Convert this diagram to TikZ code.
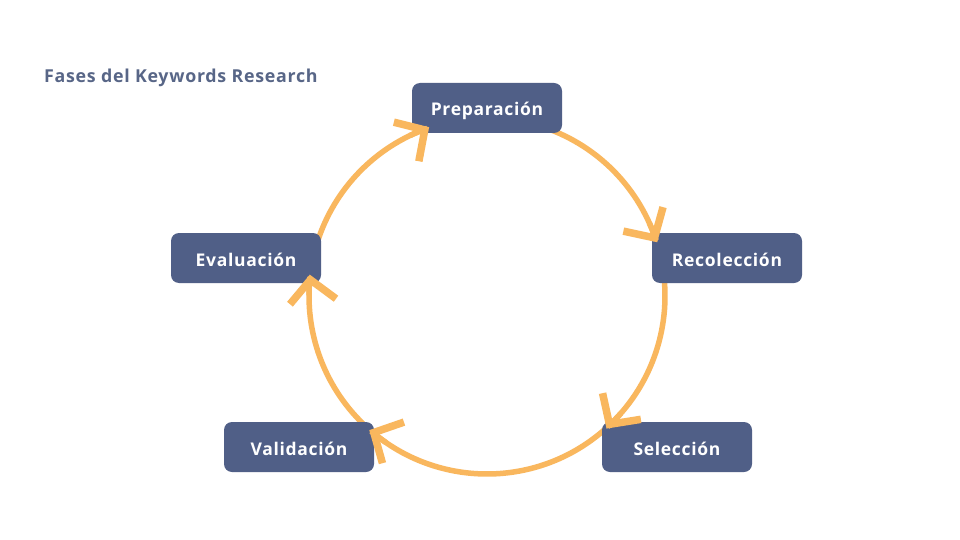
\documentclass[tikz,border=0pt]{standalone}
\usepackage{fontspec}
\setmainfont{Open Sans}[LetterSpace=4]
\usetikzlibrary{calc}
\definecolor{boxblue}{RGB}{80,95,135}
\definecolor{titleblue}{RGB}{88,102,135}
\definecolor{arcorange}{RGB}{249,183,94}
\tikzset{
  phase/.style={draw=none, fill=boxblue, rounded corners=8pt, minimum width=150pt,
    minimum height=50pt, inner sep=0pt, text=white, text height=16pt, text depth=0pt,
    font=\fontsize{17.5}{20}\selectfont\bfseries},
  cyclearc/.style={draw=arcorange, line width=5.5pt},
  chevron/.style={draw=arcorange, line width=7.5pt, miter limit=10, line join=miter},
  titletext/.style={text=titleblue, inner sep=0pt, anchor=base west,
    font=\fontsize{17.8}{20}\selectfont\bfseries}
}
% arc body (under the boxes): #1 start angle, #2 end angle (clockwise, y down)
\newcommand\phasearc[2]{%
  \draw[cyclearc] ($(c)+(#1:178)$) arc[start angle=#1, end angle=#2, radius=178];
}
% arrow head (over the boxes): #1 end angle, #2 tip coordinate name
\newcommand\phasehead[2]{%
  \coordinate (#2) at ($(c)+(#1:178)$);
  \draw[cyclearc] ($(c)+(#1-6:178)$) arc[start angle=#1-6, end angle=#1, radius=178];
  \draw[chevron] ($(#2)+(#1+257+43:34)$) -- ($(#2)+(#1+257:3)$) -- ($(#2)+(#1+257-43:34)$);
}
\begin{document}
\begin{tikzpicture}[x=1pt,y=-1pt]
  \fill[white] (0,0) rectangle (960,540);
  \useasboundingbox (0,0) rectangle (960,540);
  \coordinate (c) at (487,296);
  % arcs (drawn first, boxes on top)
  \phasearc{-75}{-18.2}
  \phasearc{-8}{47.3}
  \phasearc{48.5}{130.6}
  \phasearc{134}{186.2}
  \phasearc{198}{250.4}
  % boxes
  \node[phase] (prep) at (487,108) {Preparación};
  \node[phase] (rec) at (727,258) {Recolección};
  \node[phase] (sel) at (677,447) {Selección};
  \node[phase] (val) at (299,447) {Validación};
  \node[phase] (eva) at (246,258) {Evaluación};
  % arrow heads on top
  \phasehead{-18.2}{tiprec}
  \phasehead{47.3}{tipsel}
  \phasehead{130.6}{tipval}
  \phasehead{186.2}{tipeva}
  \phasehead{250.4}{tipprep}
  \node[titletext] (title) at (44,83) {Fases del Keywords Research};
\end{tikzpicture}
\end{document}
